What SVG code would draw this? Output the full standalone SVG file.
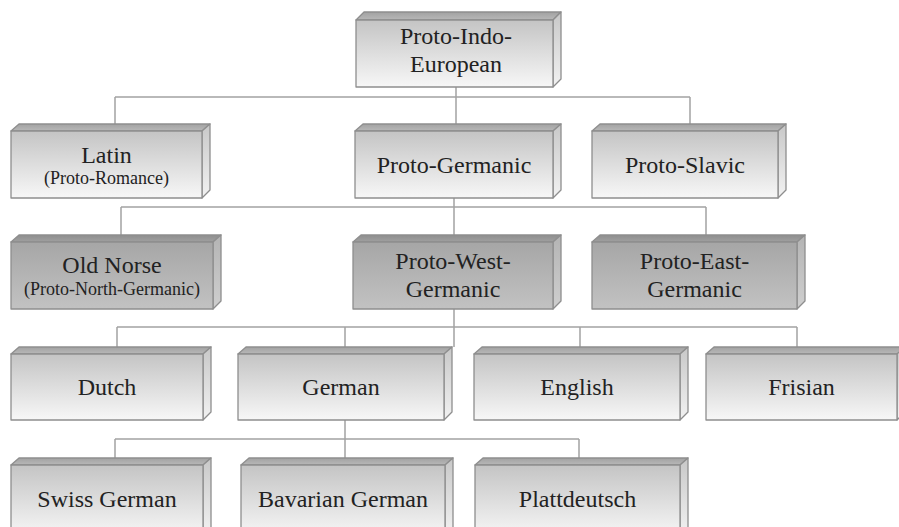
<svg xmlns="http://www.w3.org/2000/svg" width="899" height="527" viewBox="0 0 899 527">
<defs>
<linearGradient id="lf" x1="0" y1="0" x2="0" y2="1"><stop offset="0" stop-color="#c4c4c4"/><stop offset="1" stop-color="#f7f7f7"/></linearGradient>
<linearGradient id="lt" x1="0" y1="0" x2="0" y2="1"><stop offset="0" stop-color="#a2a2a2"/><stop offset="1" stop-color="#b8b8b8"/></linearGradient>
<linearGradient id="ls" x1="0" y1="0" x2="0" y2="1"><stop offset="0" stop-color="#c8c8c8"/><stop offset="1" stop-color="#f2f2f2"/></linearGradient>
<linearGradient id="df" x1="0" y1="0" x2="0" y2="1"><stop offset="0" stop-color="#a6a6a6"/><stop offset="1" stop-color="#c2c2c2"/></linearGradient>
<linearGradient id="dt" x1="0" y1="0" x2="0" y2="1"><stop offset="0" stop-color="#8e8e8e"/><stop offset="1" stop-color="#a0a0a0"/></linearGradient>
<linearGradient id="ds" x1="0" y1="0" x2="0" y2="1"><stop offset="0" stop-color="#b4b4b4"/><stop offset="1" stop-color="#cfcfcf"/></linearGradient>
</defs>
<style>
.c{stroke:#a3a3a3;stroke-width:1.5;fill:none}
.e{stroke:#8e8e8e;stroke-width:1.3;stroke-linejoin:round}
.lf{fill:url(#lf)}.lt{fill:url(#lt)}.ls{fill:url(#ls)}
.df{fill:url(#df)}.dt{fill:url(#dt)}.ds{fill:url(#ds)}
.t{font-size:24px}.s{font-size:18px}
</style>
<rect width="899" height="527" fill="#fff"/>
<g id="connectors">
<path class="c" d="M456 87V124M115 97H690M115 97V124M690 97V124"/>
<path class="c" d="M454 198V235M121 207H706M121 207V235M706 207V235"/>
<path class="c" d="M454 309V347M117 327H797M117 327V347M345 327V347M580 327V347M797 327V347"/>
<path class="c" d="M345 420V458M115 439H579M115 439V458M345 439V458M579 439V458"/>
</g>
<g font-family="Liberation Serif, Times New Roman, serif" fill="#222" text-anchor="middle">
<g id="n-pie">
<path class="e lt" d="M356 20L364 12H561L553 20Z"/><path class="e ls" d="M553 20L561 12V79L553 87Z"/><rect class="e lf" x="356" y="20" width="197" height="67"/>
<text class="t" x="456" y="44">Proto-Indo-</text><text class="t" x="456" y="72">European</text>
</g>
<g id="n-latin">
<path class="e lt" d="M11 131L19 124H210L202 131Z"/><path class="e ls" d="M202 131L210 124V190L202 198Z"/><rect class="e lf" x="11" y="131" width="191" height="67"/>
<text class="t" x="106.5" y="163">Latin</text><text class="s" x="106.5" y="184">(Proto-Romance)</text>
</g>
<g id="n-pgerm">
<path class="e lt" d="M355 131L363 124H561L553 131Z"/><path class="e ls" d="M553 131L561 124V190L553 198Z"/><rect class="e lf" x="355" y="131" width="198" height="67"/>
<text class="t" x="454" y="173">Proto-Germanic</text>
</g>
<g id="n-pslav">
<path class="e lt" d="M592 131L600 124H786L778 131Z"/><path class="e ls" d="M778 131L786 124V190L778 198Z"/><rect class="e lf" x="592" y="131" width="186" height="67"/>
<text class="t" x="685" y="173">Proto-Slavic</text>
</g>
<g id="n-norse">
<path class="e dt" d="M11 242L19 235H221L213 242Z"/><path class="e ds" d="M213 242L221 235V301L213 309Z"/><rect class="e df" x="11" y="242" width="202" height="67"/>
<text class="t" x="112" y="273">Old Norse</text><text class="s" x="112" y="295">(Proto-North-Germanic)</text>
</g>
<g id="n-pwg">
<path class="e dt" d="M353 242L361 235H561L553 242Z"/><path class="e ds" d="M553 242L561 235V301L553 309Z"/><rect class="e df" x="353" y="242" width="200" height="67"/>
<text class="t" x="453" y="269">Proto-West-</text><text class="t" x="453" y="297">Germanic</text>
</g>
<g id="n-peg">
<path class="e dt" d="M592 242L600 235H805L797 242Z"/><path class="e ds" d="M797 242L805 235V301L797 309Z"/><rect class="e df" x="592" y="242" width="205" height="67"/>
<text class="t" x="694.5" y="269">Proto-East-</text><text class="t" x="694.5" y="297">Germanic</text>
</g>
<g id="n-dutch">
<path class="e lt" d="M11 354L19 347H211L203 354Z"/><path class="e ls" d="M203 354L211 347V412L203 420Z"/><rect class="e lf" x="11" y="354" width="192" height="66"/>
<text class="t" x="107" y="395">Dutch</text>
</g>
<g id="n-german">
<path class="e lt" d="M238 354L246 347H452L444 354Z"/><path class="e ls" d="M444 354L452 347V412L444 420Z"/><rect class="e lf" x="238" y="354" width="206" height="66"/>
<text class="t" x="341" y="395">German</text>
</g>
<g id="n-english">
<path class="e lt" d="M474 354L482 347H688L680 354Z"/><path class="e ls" d="M680 354L688 347V412L680 420Z"/><rect class="e lf" x="474" y="354" width="206" height="66"/>
<text class="t" x="577" y="395">English</text>
</g>
<g id="n-frisian">
<path class="e lt" d="M706 354L714 347H905L897 354Z"/><path class="e ls" d="M897 354L905 347V412L897 420Z"/><rect class="e lf" x="706" y="354" width="191" height="66"/>
<text class="t" x="801.5" y="395">Frisian</text>
</g>
<g id="n-swiss">
<path class="e lt" d="M11 465L19 458H211L203 465Z"/><path class="e ls" d="M203 465L211 458V530L203 535Z"/><rect class="e lf" x="11" y="465" width="192" height="72"/>
<text class="t" x="107" y="507">Swiss German</text>
</g>
<g id="n-bav">
<path class="e lt" d="M241 465L249 458H453L445 465Z"/><path class="e ls" d="M445 465L453 458V530L445 535Z"/><rect class="e lf" x="241" y="465" width="204" height="72"/>
<text class="t" x="343" y="507">Bavarian German</text>
</g>
<g id="n-platt">
<path class="e lt" d="M475 465L483 458H688L680 465Z"/><path class="e ls" d="M680 465L688 458V530L680 535Z"/><rect class="e lf" x="475" y="465" width="205" height="72"/>
<text class="t" x="577.5" y="507">Plattdeutsch</text>
</g>
</g>
</svg>
